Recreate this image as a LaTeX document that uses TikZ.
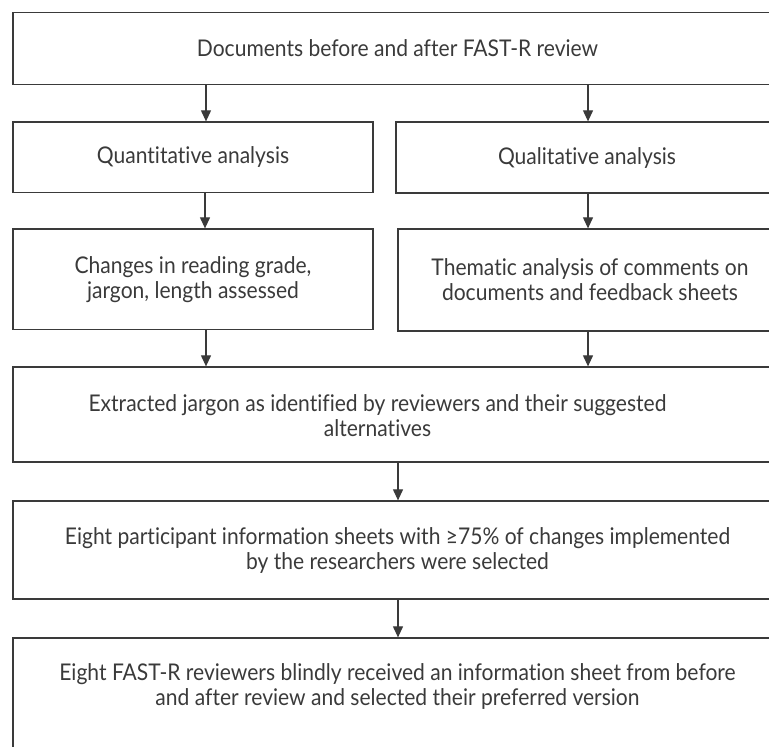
\documentclass[tikz,border=0pt]{standalone}
\usepackage{fontspec}
\setmainfont{Lato}[FakeStretch=0.915,Ligatures=NoCommon]
\usepackage{xcolor}
\usetikzlibrary{arrows.meta,positioning}
\definecolor{ink}{HTML}{3A3A3A}
\begin{document}
\begin{tikzpicture}[x=0.5pt,y=-0.5pt,
	box/.style={rectangle,draw=ink,line width=0.65pt,inner sep=0pt,align=center,text=ink,font=\fontsize{11.5}{12.5}\selectfont},
	txt/.style={inner sep=0pt,align=center,text=ink,font=\fontsize{11.5}{12.5}\selectfont},
	arr/.style={-{Triangle[length=5.5pt,width=5pt]},draw=ink,line width=0.55pt}]
\useasboundingbox (0,0) rectangle (769,746);
\clip (0,0) rectangle (769,746);
\node (docs) at (397.5,48.5)[box,minimum width=384.5pt,minimum height=35.75pt] {Documents before and after FAST-R review};
\node (quant) at (193,157.25)[box,minimum width=180pt,minimum height=35.25pt] {Quantitative analysis};
\node (qual) at (587,157.5)[box,minimum width=191pt,minimum height=35.5pt] {Qualitative analysis};
\node (chg) at (193,279.25)[box,minimum width=180pt,minimum height=50.25pt] {Changes in reading grade,\\jargon, length assessed};
\node (them) at (590,280)[box,minimum width=192pt,minimum height=51pt] {Thematic analysis of comments on\\documents and feedback sheets};
\node (extr) at (397.5,414.5)[box,minimum width=384.5pt,minimum height=47.5pt] {};
\node (extrtxt) at (377.5,415.5)[txt] {Extracted jargon as identified by reviewers and their suggested\\alternatives};
\node (sel) at (397.5,550)[box,minimum width=384.5pt,minimum height=49pt] {Eight participant information sheets with ≥75\% of changes implemented\\by the researchers were selected};
\node (pref) at (397.5,699)[box,minimum width=384.5pt,minimum height=61pt] {};
\node (preftxt) at (397.5,686.5)[txt] {Eight FAST-R reviewers blindly received an information sheet from before\\and after review and selected their preferred version};

\draw[arr] (docs.south -| 206,0) -- (quant.north -| 206,0);
\draw[arr] (docs.south -| 588,0) -- (qual.north -| 588,0);
\draw[arr] (quant.south -| 205,0) -- (chg.north -| 205,0);
\draw[arr] (qual.south -| 588,0) -- (them.north -| 588,0);
\draw[arr] (chg.south -| 206,0) -- (extr.north -| 206,0);
\draw[arr] (them.south -| 588,0) -- (extr.north -| 588,0);
\draw[arr] (extr.south -| 398,0) -- (sel.north -| 398,0);
\draw[arr] (sel.south -| 398,0) -- (pref.north -| 398,0);
\end{tikzpicture}
\end{document}
